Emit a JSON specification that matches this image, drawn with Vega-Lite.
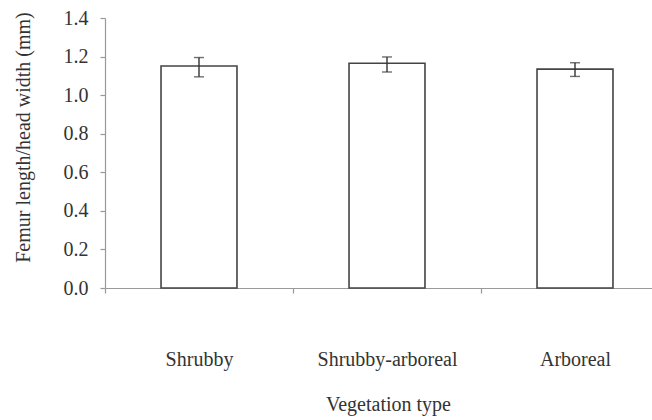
{
  "$schema": "https://vega.github.io/schema/vega-lite/v6.json",
  "autosize": {"type": "none"},
  "padding": {"left": 105, "top": 18, "right": 0, "bottom": 132},
  "width": 564,
  "height": 270,
  "background": "white",
  "config": {
    "view": {"stroke": null},
    "font": "Liberation Serif, serif",
    "axis": {
      "labelFont": "Liberation Serif, serif",
      "titleFont": "Liberation Serif, serif",
      "labelFontSize": 20,
      "titleFontSize": 20,
      "labelColor": "#333333",
      "titleColor": "#333333",
      "titleFontWeight": "normal",
      "domainColor": "#999999",
      "tickColor": "#999999",
      "domainWidth": 1.2,
      "tickWidth": 1.2,
      "tickSize": 5,
      "grid": false,
      "labelOverlap": false
    },
    "axisY": {
      "title": "Femur length/head width (mm)",
      "values": [0, 0.2, 0.4, 0.6, 0.8, 1.0, 1.2, 1.4],
      "format": ".1f",
      "labelPadding": 12,
      "labelOverlap": false,
      "titleX": -92,
      "titleY": 119,
      "titleAngle": -90,
      "titleBaseline": "top"
    }
  },
  "data": {
    "values": [
      {"type": "Shrubby", "mean": 1.151, "lo": 1.095, "hi": 1.195},
      {"type": "Shrubby-arboreal", "mean": 1.165, "lo": 1.12, "hi": 1.198},
      {"type": "Arboreal", "mean": 1.135, "lo": 1.097, "hi": 1.168}
    ]
  },
  "encoding": {
    "x": {
      "field": "type",
      "type": "nominal",
      "sort": null,
      "scale": {"paddingInner": 0, "paddingOuter": 0},
      "axis": {
        "title": "Vegetation type",
        "labelAngle": 0,
        "labelPadding": 56,
        "labelDx": 5,
        "tickBand": "extent",
        "titleY": 106,
        "titleX": 283,
        "titleBaseline": "top"
      }
    }
  },
  "layer": [
    {
      "mark": {"type": "bar", "fill": "white", "stroke": "#444444", "strokeWidth": 1.6, "width": {"band": 0.404}},
      "encoding": {
        "y": {
          "field": "mean",
          "type": "quantitative",
          "title": "Femur length/head width (mm)",
          "scale": {"domain": [0, 1.4], "nice": false}
        }
      }
    },
    {
      "mark": {"type": "rule", "color": "#333333", "strokeWidth": 1.4},
      "encoding": {
        "y": {"field": "lo", "type": "quantitative", "title": "Femur length/head width (mm)"},
        "y2": {"field": "hi"}
      }
    },
    {
      "mark": {"type": "tick", "color": "#333333", "thickness": 1.4, "size": 10, "orient": "horizontal"},
      "encoding": {"y": {"field": "lo", "type": "quantitative", "title": "Femur length/head width (mm)"}}
    },
    {
      "mark": {"type": "tick", "color": "#333333", "thickness": 1.4, "size": 10, "orient": "horizontal"},
      "encoding": {"y": {"field": "hi", "type": "quantitative", "title": "Femur length/head width (mm)"}}
    }
  ]
}
